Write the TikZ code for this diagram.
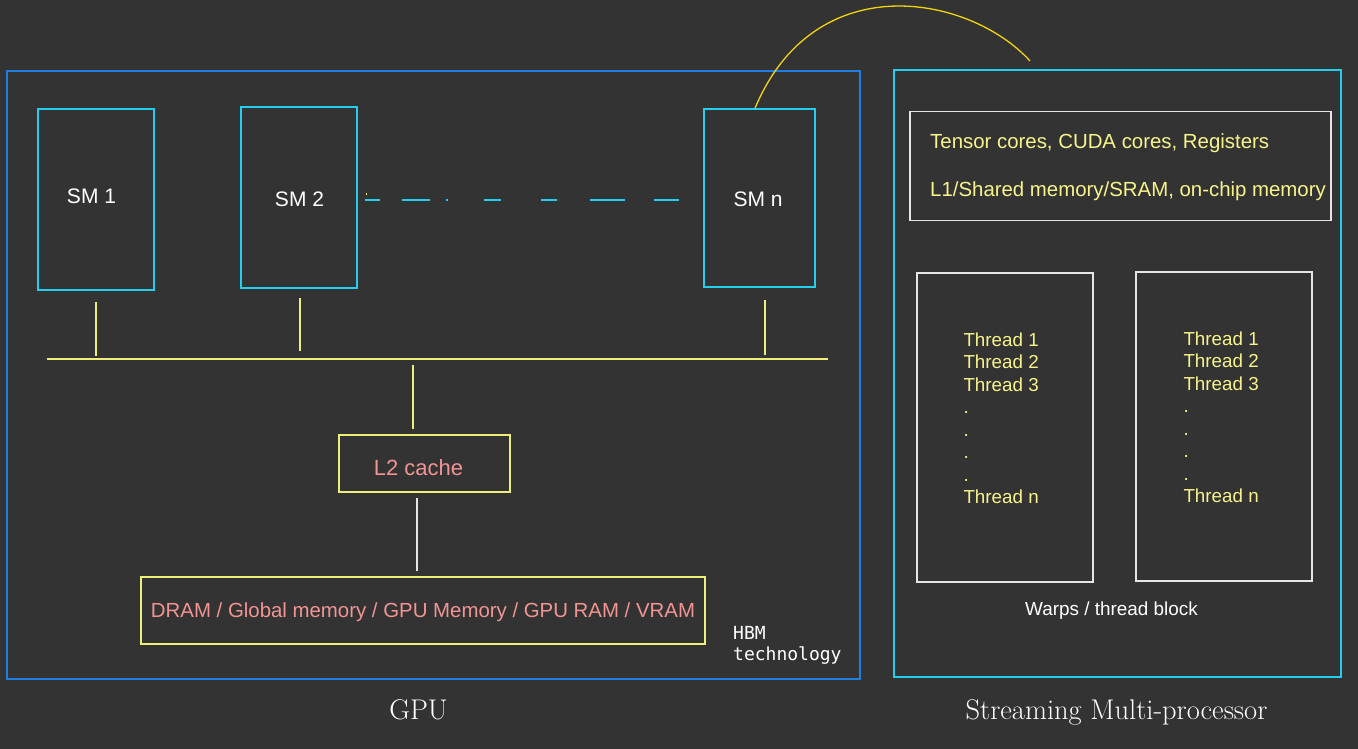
\documentclass[tikz,border=0pt]{standalone}
\usepackage{fontspec}
\setsansfont{Liberation Sans}
\newfontfamily\hbmfont{DejaVu Sans Mono}
\definecolor{bgc}{HTML}{333333}
\definecolor{gpublue}{HTML}{1F7FE0}
\definecolor{smcyan}{HTML}{22CFEE}
\definecolor{liney}{HTML}{F0EE7A}
\definecolor{boxw}{HTML}{E6E6E6}
\definecolor{pinkt}{HTML}{F29494}
\definecolor{thry}{HTML}{F8F48C}
\definecolor{curvey}{HTML}{F2D40C}
\begin{document}
\begin{tikzpicture}[x=1pt,y=-1pt,
  box/.style={draw, rectangle, inner sep=0pt, line width=1.5pt},
  gpubox/.style={box, draw=gpublue},
  cyanbox/.style={box, draw=smcyan},
  ybox/.style={box, draw=liney},
  wbox/.style={box, draw=boxw},
  conn/.style={draw=liney, line width=1.3pt},
  lbl/.style={inner sep=0pt, font=\sffamily\fontsize{20.4}{24}\selectfont},
  smlbl/.style={lbl, text=white, anchor=base, font=\sffamily\fontsize{21}{24}\selectfont},
  pinklbl/.style={lbl, text=pinkt, anchor=base},
  ylbl/.style={lbl, text=thry, anchor=base west},
  thr/.style={inner sep=0pt, text=thry, anchor=base west, font=\sffamily\fontsize{18.8}{22.5}\selectfont},
  title/.style={inner sep=0pt, text=white, anchor=base, font=\fontsize{28.5}{32}\selectfont}
]
\useasboundingbox (0,0) rectangle (1358,749);
\fill[bgc] (0,0) rectangle (1358,749);

% outer boxes
\node[gpubox, minimum width=853pt, minimum height=608pt] (gpu) at (433.5,375) {};
\node[cyanbox, minimum width=447pt, minimum height=607pt] (smbox) at (1117.5,373.5) {};

% SM boxes
\node[cyanbox, minimum width=116pt, minimum height=181pt] (sm1) at (96,199.5) {};
\node[cyanbox, minimum width=116pt, minimum height=181pt] (sm2) at (299,197.5) {};
\node[cyanbox, minimum width=111pt, minimum height=178pt] (smn) at (759.5,198) {};
\node[smlbl] (sm1t) at (91.5,204) {SM 1};
\node[smlbl] (sm2t) at (299.5,206) {SM 2};
\node[smlbl] (smnt) at (758,206) {SM n};

% dashed link between SM 2 and SM n
\coordinate (dstart) at (365,200);
\coordinate (dend) at (679,200);
\draw[draw=smcyan, line width=1.3pt,
  dash pattern=on 15pt off 22pt on 28pt off 16pt on 1.5pt off 36.5pt on 17pt off 40pt on 16pt off 33pt on 35pt off 29pt on 25pt off 10pt]
  (dstart) -- (dend);
\fill[liney] (365.5,193) rectangle (367,194.5);

% bus
\coordinate (busl) at (47,359);
\coordinate (busr) at (828,359);
\draw[conn] (busl) -- (busr);
\draw[conn] ([yshift=-11pt]sm1.south) -- ([yshift=3pt]sm1.south |- busl);
\draw[conn] ([xshift=1pt,yshift=-9pt]sm2.south) -- ([xshift=1pt,yshift=8pt]sm2.south |- busl);
\draw[conn] ([xshift=5.5pt,yshift=-12pt]smn.south) -- ([xshift=5.5pt,yshift=4pt]smn.south |- busl);

% L2 cache
\node[ybox, minimum width=171pt, minimum height=57pt] (l2) at (424.5,463.5) {};
\node[pinklbl, font=\sffamily\fontsize{22}{26}\selectfont] (l2t) at (418.5,475) {L2 cache};
\draw[conn] (413,365) -- ([xshift=-11.5pt,yshift=5pt]l2.north);

% DRAM
\node[ybox, minimum width=564pt, minimum height=67pt] (dram) at (423,610.5) {};
\node[pinklbl] (dramt) at (423,617) {DRAM / Global memory / GPU Memory / GPU RAM / VRAM};
\draw[draw=boxw, line width=1.3pt] ([xshift=-7.5pt,yshift=-5pt]l2.south) -- ([xshift=-6pt,yshift=5pt]dram.north);

% HBM
\node[inner sep=0pt, anchor=base west, text=white, font=\hbmfont\fontsize{18}{21.4}\selectfont] (hbm1) at (733,639.3) {HBM};
\node[inner sep=0pt, anchor=base west, text=white, font=\hbmfont\fontsize{18}{21.4}\selectfont] (hbm2) at (733,660.7) {technology};

% SM detail
\node[wbox, minimum width=421pt, minimum height=109pt] (core) at (1120.5,166) {};
\node[ylbl] (coret1) at (930,148.3) {Tensor cores, CUDA cores, Registers};
\node[ylbl] (coret2) at (930,196.7) {L1/Shared memory/SRAM, on-chip memory};

\node[wbox, minimum width=176pt, minimum height=309pt] (w1) at (1005,427.5) {};
\node[wbox, minimum width=176pt, minimum height=309pt] (w2) at (1224,426.5) {};
\foreach \t [count=\i] in {Thread 1,Thread 2,Thread 3,.,.,.,.,Thread n} {
  \node[thr] (tl\i) at (963.3,346+22.5*\i-22.5) {\t};
  \node[thr] (tr\i) at (1183.3,345+22.5*\i-22.5) {\t};
}
\node[inner sep=0pt, anchor=base, text=white, font=\sffamily\fontsize{18.9}{22}\selectfont] (warps) at (1111.5,615.7) {Warps / thread block};

% curve from SM n to SM detail
\coordinate (cend) at (1030,61);
\draw[draw=curvey, line width=1.3pt] ([xshift=-4.5pt]smn.north) .. controls (815,-35) and (970,-5) .. (cend);

% titles
\node[title] (gputitle) at (418.5,719) {GPU};
\node[title] (smtitle) at (1116.5,719) {Streaming Multi-processor};
\end{tikzpicture}
\end{document}
